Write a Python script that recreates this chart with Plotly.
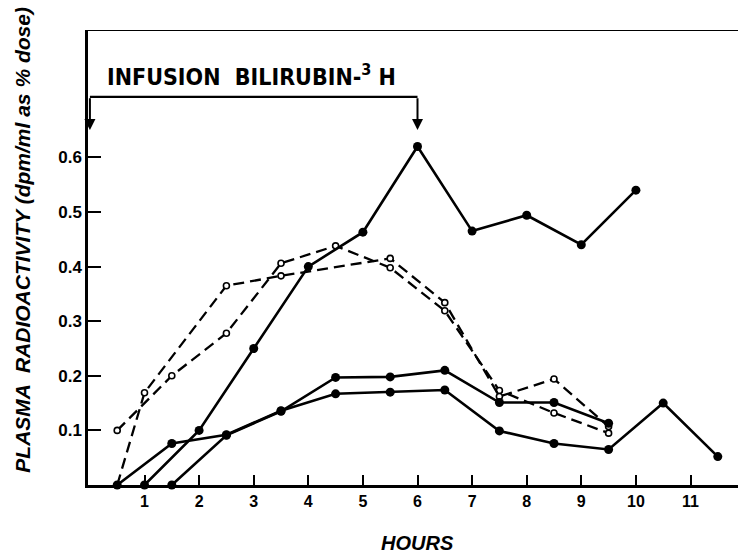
import plotly.graph_objects as go

# ---- data (hours, plasma radioactivity as % dose per ml) ----
hours_a = [1, 2, 3, 4, 5, 6, 7, 8, 9, 10]
vals_a = [0, 0.10, 0.25, 0.40, 0.463, 0.62, 0.465, 0.494, 0.44, 0.54]

hours_b = [0.5, 1.5, 2.5, 3.5, 4.5, 5.5, 6.5, 7.5, 8.5, 9.5, 10.5, 11.5]
vals_b = [0, 0.076, 0.092, 0.136, 0.167, 0.17, 0.174, 0.099, 0.076, 0.065, 0.15, 0.052]

hours_c = [1.5, 2.5, 3.5, 4.5, 5.5, 6.5, 7.5, 8.5, 9.5]
vals_c = [0, 0.091, 0.135, 0.197, 0.198, 0.21, 0.151, 0.151, 0.113]

hours_d1 = [0.5, 1.5, 2.5, 3.5, 4.5, 5.5, 6.5, 7.5, 8.5, 9.5]
vals_d1 = [0.10, 0.20, 0.278, 0.406, 0.438, 0.398, 0.319, 0.173, 0.132, 0.095]

hours_d2 = [0.5, 1, 2.5, 3.5, 5.5, 6.5, 7.5, 8.5, 9.5]
vals_d2 = [0, 0.169, 0.365, 0.383, 0.415, 0.334, 0.162, 0.194, 0.107]

x_ticks = [1, 2, 3, 4, 5, 6, 7, 8, 9, 10, 11]
y_ticks = [0.1, 0.2, 0.3, 0.4, 0.5, 0.6]

infusion_start = 0
infusion_end = 6
infusion_label = "INFUSION  BILIRUBIN-<sup>3</sup> H"

Y_MAX = 0.8333
X_RANGE = [-0.035, 11.87]
BRACKET_Y = 0.711
ARROW_TIP_Y = 0.650
LABEL_Y = 0.751

FONT = "Liberation Sans, DejaVu Sans, Arial, sans-serif"
NARROW = "Liberation Sans Narrow, DejaVu Sans Condensed, Arial Narrow, sans-serif"

fig = go.Figure()

dashed = [(hours_d1, vals_d1), (hours_d2, vals_d2)]
for hx, hy in dashed:
    fig.add_trace(go.Scatter(
        x=hx, y=hy, mode="lines+markers", cliponaxis=False,
        line=dict(color="black", width=2.3, dash="11px,6px"),
        marker=dict(symbol="circle", size=6, color="white",
                    line=dict(color="black", width=1.6)),
        showlegend=False))

solid = [(hours_a, vals_a), (hours_b, vals_b), (hours_c, vals_c)]
for hx, hy in solid:
    fig.add_trace(go.Scatter(
        x=hx, y=hy, mode="lines+markers", cliponaxis=False,
        line=dict(color="black", width=2.6),
        marker=dict(symbol="circle", size=9, color="black"),
        showlegend=False))

# frame line at top
fig.add_shape(type="line", xref="paper", yref="y", x0=0, x1=1,
              y0=Y_MAX, y1=Y_MAX, line=dict(color="black", width=2))
# bracket for infusion period
fig.add_shape(type="line", xref="x", yref="y", x0=infusion_start, x1=infusion_end,
              y0=BRACKET_Y, y1=BRACKET_Y, line=dict(color="black", width=2.2))
for xv in (infusion_start, infusion_end):
    fig.add_annotation(x=xv, y=ARROW_TIP_Y, ax=xv, ay=BRACKET_Y,
                       xref="x", yref="y", axref="x", ayref="y",
                       showarrow=True, arrowhead=2, arrowsize=1.1,
                       arrowwidth=2, arrowcolor="black", text="")
fig.add_annotation(x=0.27, y=LABEL_Y, xref="x", yref="y", xanchor="left",
                   yanchor="middle", showarrow=False, text=infusion_label,
                   font=dict(family=NARROW, size=23, color="black", weight="bold"))

# axis titles
fig.add_annotation(x=-0.101, y=0.54, xref="paper", yref="paper", textangle=-90,
                   showarrow=False, xanchor="center", yanchor="middle",
                   text="<i>PLASMA  RADIOACTIVITY (dpm/ml as % dose)</i>",
                   font=dict(family=FONT, size=21, color="black", weight="bold"))
fig.add_annotation(x=0.507, y=-0.127, xref="paper", yref="paper",
                   showarrow=False, xanchor="center", yanchor="middle",
                   text="<i>HOURS</i>",
                   font=dict(family=FONT, size=20, color="black", weight="bold"))

fig.update_xaxes(range=X_RANGE, tickvals=x_ticks, ticktext=[str(v) for v in x_ticks],
                 ticks="inside", ticklen=10, tickwidth=2, tickcolor="black",
                 showline=True, linecolor="black", linewidth=2.5,
                 showgrid=False, zeroline=False,
                 tickfont=dict(family=FONT, size=16, color="black", weight="bold"))
fig.update_yaxes(range=[0, Y_MAX], tickvals=y_ticks, ticktext=[f"{v:.1f}" for v in y_ticks],
                 ticks="inside", ticklen=13, tickwidth=2, tickcolor="black",
                 showline=True, linecolor="black", linewidth=2.5,
                 showgrid=False, zeroline=False,
                 tickfont=dict(family=FONT, size=17, color="black", weight="bold"))

fig.update_layout(width=738, height=553,
                  margin=dict(l=88, r=0, t=30, b=68),
                  paper_bgcolor="white", plot_bgcolor="white")

fig.write_html("out.html", config={"displayModeBar": False},
               post_script="document.body.style.margin='0';document.body.style.overflow='hidden';")
